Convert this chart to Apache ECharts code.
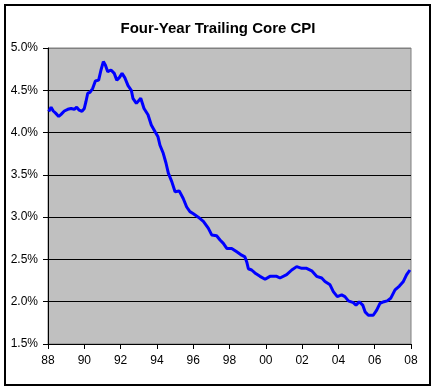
<!DOCTYPE html>
<html>
<head>
<meta charset="utf-8">
<script src="https://cdn.jsdelivr.net/npm/echarts@6/dist/echarts.min.js"></script>
<style>
html,body{margin:0;padding:0;background:#fff;}
#c{width:436px;height:391px;}
</style>
</head>
<body>
<div id="c"></div>
<script>
const titleText = "Four-Year Trailing Core CPI";
const years = [
1988.04,1988.17,1988.29,1988.42,1988.59,1988.72,1988.90,1989.09,1989.27,1989.45,1989.58,1989.72,1989.87,
1990.00,1990.09,1990.19,1990.31,1990.46,1990.61,1990.79,1990.92,1991.05,1991.16,1991.29,1991.47,1991.65,1991.79,1991.93,
1992.08,1992.23,1992.41,1992.59,1992.68,1992.87,1993.11,1993.29,1993.51,1993.69,1993.90,
1994.06,1994.17,1994.35,1994.50,1994.63,1994.82,1995.00,1995.23,1995.45,1995.64,1995.82,
1996.01,1996.28,1996.56,1996.83,1997.02,1997.29,1997.48,1997.66,1997.85,
1998.12,1998.40,1998.67,1998.85,1998.95,1999.04,1999.22,1999.40,1999.68,1999.96,
2000.05,2000.23,2000.60,2000.78,2001.15,2001.43,2001.70,2001.98,2002.25,2002.53,2002.80,
2003.08,2003.26,2003.54,2003.72,2003.94,2004.18,2004.36,2004.55,2004.82,2004.97,
2005.15,2005.34,2005.47,2005.65,2005.92,2006.11,2006.29,2006.51,2006.69,2006.88,
2007.12,2007.36,2007.58,2007.76,2007.94
];
const cpi = [
4.25,4.30,4.255,4.23,4.19,4.215,4.255,4.275,4.285,4.275,4.30,4.265,4.25,
4.285,4.365,4.465,4.475,4.52,4.61,4.62,4.74,4.84,4.80,4.72,4.74,4.70,4.62,4.65,
4.70,4.65,4.555,4.50,4.405,4.345,4.405,4.285,4.21,4.09,4.01,
3.95,3.85,3.755,3.64,3.52,3.42,3.30,3.31,3.22,3.12,3.065,
3.04,3.00,2.95,2.87,2.79,2.78,2.73,2.69,2.63,
2.63,2.59,2.55,2.53,2.47,2.39,2.375,2.34,2.30,2.265,
2.25,2.30,2.30,2.28,2.32,2.375,2.415,2.395,2.395,2.365,2.30,
2.28,2.24,2.20,2.12,2.06,2.08,2.06,2.01,1.99,1.96,
2.00,1.96,1.88,1.84,1.84,1.90,1.98,2.00,2.01,2.04,
2.14,2.185,2.24,2.32,2.375
];
const xMin = 1988, xMax = 2008, xStep = 2;
const yMin = 1.5, yMax = 5.0, yStep = 0.5;

const chart = echarts.init(document.getElementById('c'), null, {renderer:'canvas'});
const font = '"Liberation Sans", Arial, sans-serif';
const gridColors = [];
for (let v = yMin; v <= yMax + 1e-9; v += yStep) gridColors.push(Math.abs(v - yMax) < 1e-9 ? '#808080' : '#000000');

chart.setOption({
  animation: false,
  backgroundColor: '#ffffff',
  title: {
    text: titleText,
    left: 'center',
    top: 16,
    textStyle: {fontFamily: font, fontSize: 15, fontWeight: 'bold', color: '#000'}
  },
  graphic: [{
    type: 'rect',
    shape: {x: 5, y: 5, width: 425, height: 380},
    style: {fill: 'none', stroke: '#000', lineWidth: 2},
    silent: true
  }],
  grid: {
    left: 48, right: 25, top: 48, bottom: 47,
    show: true, backgroundColor: '#C0C0C0', borderColor: '#808080', borderWidth: 1
  },
  xAxis: {
    type: 'value', min: xMin, max: xMax, interval: xStep,
    axisLine: {show: true, onZero: false, lineStyle: {color: '#000', width: 1}},
    axisTick: {show: true, length: 5, lineStyle: {color: '#000'}},
    splitLine: {show: false},
    axisLabel: {
      margin: 11, color: '#000', fontFamily: font, fontSize: 12,
      formatter: v => String(Math.round(v) % 100).padStart(2, '0')
    }
  },
  yAxis: {
    type: 'value', min: yMin, max: yMax, interval: yStep,
    axisLine: {show: true, lineStyle: {color: '#000', width: 1}},
    axisTick: {show: true, length: 5, lineStyle: {color: '#000'}},
    splitLine: {show: true, lineStyle: {color: gridColors, width: 1}},
    axisLabel: {
      margin: 10, color: '#000', fontFamily: font, fontSize: 12,
      formatter: v => v.toFixed(1) + '%'
    }
  },
  series: [{
    type: 'line',
    data: years.map((y, i) => [y, cpi[i]]),
    showSymbol: false,
    lineStyle: {color: '#0000FF', width: 3},
    itemStyle: {color: '#0000FF'}
  }]
});
</script>
</body>
</html>
